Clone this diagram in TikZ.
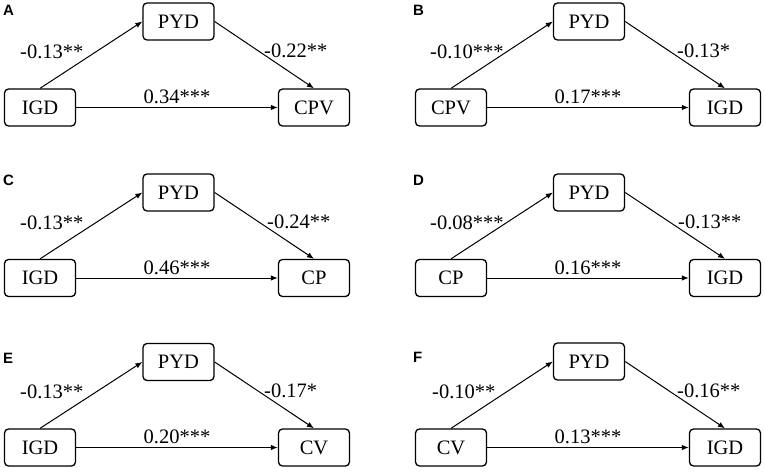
\documentclass[tikz,border=0pt]{standalone}
\usepackage{fontspec}
\setmainfont{Liberation Serif}
\newfontfamily\lettfont{Liberation Sans}
\usetikzlibrary{arrows.meta}
\begin{document}
\begin{tikzpicture}[x=1pt,y=-1pt,
  box/.style={draw, line width=1.3pt, rounded corners=4pt, minimum width=71pt, minimum height=37pt, inner sep=0pt, font=\fontsize{20.5}{24}\selectfont},
  arr/.style={-{Latex[length=7pt,width=5.5pt]}, line width=1pt},
  coef/.style={font=\fontsize{20.5}{24}\selectfont, inner sep=0pt, anchor=west},
  mid/.style={font=\fontsize{20.5}{24}\selectfont, inner sep=0pt, above=3pt},
  letter/.style={font=\lettfont\bfseries\fontsize{15}{17}\selectfont, anchor=west, inner sep=0pt}]
\useasboundingbox (0,0) rectangle (765,473);
% ---- Panel A ----
\node[letter] (a-let) at (3,10) {A};
\node[box] (a-pyd) at (178.5,21.5) {PYD};
\node[box] (a-l) at (40,107.5) {IGD};
\node[box] (a-r) at (314,107.5) {CPV};
\draw[arr] (a-l.north) -- (a-pyd.west);
\draw[arr] (a-pyd.east) -- (a-r.north);
\draw[arr] (a-l.east) -- node[mid] {0.34***} (a-r.west);
\node[coef] (a-c1) at (20,52) {-0.13**};
\node[coef] (a-c2) at (264,51) {-0.22**};
% ---- Panel B ----
\node[letter] (b-let) at (413,10) {B};
\node[box] (b-pyd) at (589,21.5) {PYD};
\node[box] (b-l) at (451,107.5) {CPV};
\node[box] (b-r) at (725,107.5) {IGD};
\draw[arr] (b-l.north) -- (b-pyd.west);
\draw[arr] (b-pyd.east) -- (b-r.north);
\draw[arr] (b-l.east) -- node[mid] {0.17***} (b-r.west);
\node[coef] (b-c1) at (430,52) {-0.10***};
\node[coef] (b-c2) at (677,51) {-0.13*};
% ---- Panel C ----
\node[letter] (c-let) at (3,180) {C};
\node[box] (c-pyd) at (178.5,192.5) {PYD};
\node[box] (c-l) at (40,278) {IGD};
\node[box] (c-r) at (314,278) {CP};
\draw[arr] (c-l.north) -- (c-pyd.west);
\draw[arr] (c-pyd.east) -- (c-r.north);
\draw[arr] (c-l.east) -- node[mid] {0.46***} (c-r.west);
\node[coef] (c-c1) at (20,223) {-0.13**};
\node[coef] (c-c2) at (267,222) {-0.24**};
% ---- Panel D ----
\node[letter] (d-let) at (413,180) {D};
\node[box] (d-pyd) at (589,192.5) {PYD};
\node[box] (d-l) at (451,278) {CP};
\node[box] (d-r) at (725,278) {IGD};
\draw[arr] (d-l.north) -- (d-pyd.west);
\draw[arr] (d-pyd.east) -- (d-r.north);
\draw[arr] (d-l.east) -- node[mid] {0.16***} (d-r.west);
\node[coef] (d-c1) at (430,223) {-0.08***};
\node[coef] (d-c2) at (678,222) {-0.13**};
% ---- Panel E ----
\node[letter] (e-let) at (3,358) {E};
\node[box] (e-pyd) at (178.5,362) {PYD};
\node[box] (e-l) at (40,447.5) {IGD};
\node[box] (e-r) at (314,447.5) {CV};
\draw[arr] (e-l.north) -- (e-pyd.west);
\draw[arr] (e-pyd.east) -- (e-r.north);
\draw[arr] (e-l.east) -- node[mid] {0.20***} (e-r.west);
\node[coef] (e-c1) at (20,392) {-0.13**};
\node[coef] (e-c2) at (264,391) {-0.17*};
% ---- Panel F ----
\node[letter] (f-let) at (413,357) {F};
\node[box] (f-pyd) at (589,361.5) {PYD};
\node[box] (f-l) at (451,447.5) {CV};
\node[box] (f-r) at (725,447.5) {IGD};
\draw[arr] (f-l.north) -- (f-pyd.west);
\draw[arr] (f-pyd.east) -- (f-r.north);
\draw[arr] (f-l.east) -- node[mid] {0.13***} (f-r.west);
\node[coef] (f-c1) at (432,392) {-0.10**};
\node[coef] (f-c2) at (677,391) {-0.16**};
\end{tikzpicture}
\end{document}
